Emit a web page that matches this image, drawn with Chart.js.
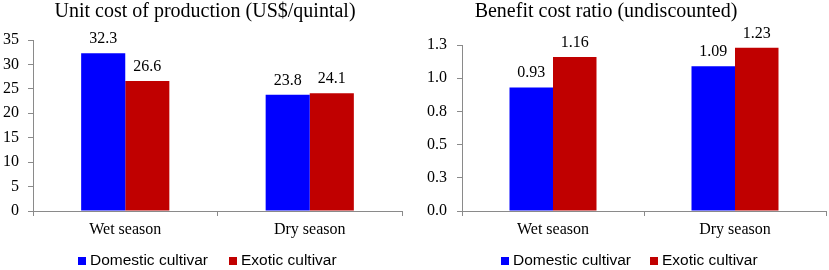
<!DOCTYPE html>
<html>
<head>
<meta charset="utf-8">
<script src="https://cdn.jsdelivr.net/npm/chart.js@4/dist/chart.umd.min.js"></script>
<style>
  html, body { margin: 0; padding: 0; background: #ffffff; }
  #wrap { display: flex; width: 829px; height: 270px; }
  canvas { display: block; }
</style>
</head>
<body>
<div id="wrap">
  <canvas id="c1" width="415" height="270"></canvas>
  <canvas id="c2" width="414" height="270"></canvas>
</div>
<script>
// ---- Data ----
const categories = ['Wet season', 'Dry season'];
const seriesNames = ['Domestic cultivar', 'Exotic cultivar'];
const costTitle = 'Unit cost of production (US$/quintal)';
const costDomestic = [32.3, 23.8];
const costExotic = [26.6, 24.1];
const costValueLabels = ['32.3', '23.8'];
const costValueLabelsExotic = ['26.6', '24.1'];
const bcrTitle = 'Benefit cost ratio (undiscounted)';
const bcrDomestic = [0.93, 1.09];
const bcrExotic = [1.16, 1.23];
const bcrValueLabels = ['0.93', '1.09'];
const bcrValueLabelsExotic = ['1.16', '1.23'];

// ---- Styles ----
const BLUE = '#0000FF';
const RED = '#C00000';
const AXIS = '#8a8a8a';
const SERIF = "'Liberation Serif', 'Times New Roman', serif";
const SANS = "'Liberation Sans', Arial, sans-serif";

const decorPlugin = {
  id: 'decor',
  afterDatasetsDraw(chart, args, opts) {
    const ctx = chart.ctx;
    ctx.save();
    // value labels
    ctx.font = '16px ' + SERIF;
    ctx.fillStyle = '#000';
    ctx.textAlign = 'center';
    ctx.textBaseline = 'alphabetic';
    chart.data.datasets.forEach((ds, di) => {
      const meta = chart.getDatasetMeta(di);
      meta.data.forEach((el, i) => {
        ctx.fillText(ds.valueLabels[i], el.x, el.y - 10);
      });
    });
    // title
    ctx.font = '20px ' + SERIF;
    ctx.textBaseline = 'middle';
    ctx.fillText(opts.title, opts.titleX, opts.titleY);
    // legend
    ctx.font = '15.5px ' + SANS;
    ctx.textAlign = 'left';
    let x = opts.legendX;
    const y = opts.legendY;
    chart.data.datasets.forEach((ds) => {
      ctx.fillStyle = ds.backgroundColor;
      ctx.fillRect(x, y - 4, 8, 8);
      ctx.fillStyle = '#000';
      ctx.fillText(ds.label, x + 12, y);
      x += 12 + ctx.measureText(ds.label).width + opts.legendGap;
    });
    ctx.restore();
  }
};

function makeChart(id, d1, d2, l1, l2, yOpts, geo) {
  return new Chart(document.getElementById(id), {
    type: 'bar',
    data: {
      labels: categories,
      datasets: [
        { label: seriesNames[0], data: d1, valueLabels: l1, backgroundColor: BLUE,
          barPercentage: 1, categoryPercentage: 0.478 },
        { label: seriesNames[1], data: d2, valueLabels: l2, backgroundColor: RED,
          barPercentage: 1, categoryPercentage: 0.478 }
      ]
    },
    options: {
      responsive: false,
      animation: false,
      layout: { padding: { top: geo.top, right: geo.right, left: 0, bottom: 0 } },
      plugins: {
        legend: { display: false },
        title: { display: false },
        tooltip: { enabled: false },
        decor: geo.decor
      },
      scales: {
        x: {
          grid: { display: true, drawOnChartArea: false, drawTicks: true, tickLength: 5, color: AXIS, offset: true },
          border: { display: true, color: AXIS, width: 1 },
          ticks: { color: '#000', font: { family: SERIF, size: 16 }, padding: 4, maxRotation: 0 },
          afterFit(s) { s.height = geo.xHeight; }
        },
        y: Object.assign({
          beginAtZero: true,
          grid: { display: true, drawOnChartArea: false, drawTicks: true, tickLength: 5, color: AXIS },
          border: { display: true, color: AXIS, width: 1 },
          afterFit(s) { s.width = geo.yWidth; }
        }, yOpts)
      }
    },
    plugins: [decorPlugin]
  });
}

makeChart('c1', costDomestic, costExotic, costValueLabels, costValueLabelsExotic, {
  min: 0, max: 35,
  ticks: { stepSize: 5, color: '#000', font: { family: SERIF, size: 16 }, padding: 9 }
}, {
  top: 40, right: 13, xHeight: 59, yWidth: 33,
  decor: { title: costTitle, titleX: 205, titleY: 12, legendX: 78, legendY: 261, legendGap: 21 }
});

makeChart('c2', bcrDomestic, bcrExotic, bcrValueLabels, bcrValueLabelsExotic, {
  min: 0, max: 1.25,
  ticks: { stepSize: 0.25, color: '#000', font: { family: SERIF, size: 16 }, padding: 10,
           callback: (v) => Number(v).toFixed(1) }
}, {
  top: 45, right: 3, xHeight: 59, yWidth: 47,
  decor: { title: bcrTitle, titleX: 191, titleY: 12, legendX: 86, legendY: 261, legendGap: 19 }
});
</script>
</body>
</html>
